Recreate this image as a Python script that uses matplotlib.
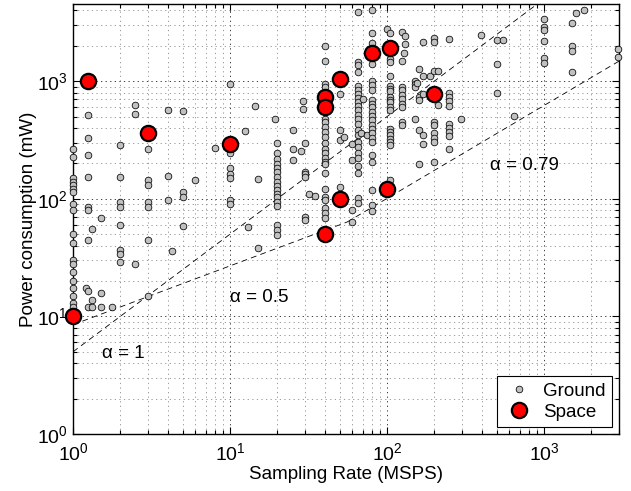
import matplotlib
matplotlib.use('Agg')
import matplotlib.pyplot as plt
import numpy as np
from matplotlib.ticker import LogLocator, NullFormatter

plt.rcParams['font.family'] = ['Liberation Sans', 'DejaVu Sans']
plt.rcParams['mathtext.fontset'] = 'custom'
plt.rcParams['mathtext.rm'] = 'Liberation Sans'
plt.rcParams['mathtext.it'] = 'Liberation Sans:italic'

# ---------------- data ----------------
# Ground (terrestrial ADCs): sampling rate [MSPS] and power [mW], grouped by rate
ground_rate = (
    [1] * 19 + [1.21] + [1.25] * 9 + [1.33] * 3 + [1.5] * 3 + [1.76] +
    [2] * 8 + [2.5] * 3 + [3] * 7 + [4] * 3 + [4.25] + [5] * 4 + [6] + [8] +
    [10] * 7 + [12.4] + [13.1] + [14.4] + [15] * 2 + [19.3] +
    [20] * 17 + [25] * 3 + [28.2] + [29] * 2 + [30] * 6 + [32] + [35] +
    [40] * 22 + [50] * 4 + [53] + [60] * 4 + [65] * 24 + [68] + [70] + [74] +
    [80] * 24 + [100] + [104] * 19 + [125] * 10 + [130] * 2 + [128] +
    [150] * 4 + [155] + [160] * 5 + [170] * 5 + [187] + [200] * 9 + [210] * 2 +
    [248] * 10 + [296] + [395] + [500] * 3 + [550] + [640] +
    [1000] * 6 + [1500] * 4 + [1600] + [1790] + [2950] * 2
)
ground_power = (
    [267, 225, 149, 139, 130, 122, 115, 90, 80, 50, 42, 30, 28, 24, 20, 17.5, 15, 13, 12] +
    [17.6] +
    [513, 329, 234, 153, 85, 80, 44.5, 16.5, 11.9] +
    [55, 13.9, 11.9] +
    [69, 15.9, 11.9] +
    [11.9] +
    [287, 153, 94, 85, 60, 37, 34, 29] +
    [630, 530, 28] +
    [267, 144, 130, 94, 85, 44.5, 15] +
    [574, 156, 97] +
    [36] +
    [555, 115, 104, 58.5] +
    [144] +
    [271] +
    [955, 243, 181, 162, 149, 97, 90] +
    [375] + [57.7] + [610] + [147, 37.9] + [472] +
    [299, 243, 216, 199, 183, 169, 153, 139, 128, 118, 109, 103, 94, 87, 60, 54, 49] +
    [383, 267, 212] + [256] + [675, 585] + [299, 169, 161, 152, 70, 66] + [109] + [105] +
    [1990, 1490, 955, 890, 474, 450, 408, 370, 336, 299, 267, 243, 224, 206, 199, 164,
     122, 104, 97, 83, 75, 68] +
    [770, 388, 318, 126] + [336] + [295, 212, 80, 64] +
    [3890, 1455, 1365, 1197, 906, 837, 785, 726, 666, 612, 566, 513, 481, 436, 383, 347,
     304, 276, 243, 220, 189, 164, 101, 92] +
    [359] + [710] + [347] +
    [4000, 2590, 2110, 1585, 1392, 1004, 923, 837, 688, 645, 597, 547, 503, 466, 422, 395,
     359, 329, 304, 234, 206, 118, 88, 79] +
    [2800] +
    [2590, 1553, 1455, 1100, 906, 865, 826, 734, 698, 666, 604, 566, 395, 370, 347, 325,
     304, 285, 144] +
    [2600, 1490, 890, 837, 757, 711, 645, 604, 450, 422] +
    [2400, 2080] + [1740] +
    [1004, 940, 885, 472] + [960] +
    [1270, 734, 688, 383, 199] +
    [2150, 1100, 770, 347, 292] +
    [1110] +
    [2310, 2150, 1215, 450, 422, 359, 331, 304, 206] +
    [1215, 623] +
    [2270, 795, 740, 680, 612, 436, 402, 370, 339, 267] +
    [472] + [2480] + [2230, 1400, 795] + [2230] + [503] +
    [3357, 2887, 2744, 2183, 1587, 1428] +
    [3150, 1980, 1800, 1197] + [3810] + [4000] + [1890, 1610]
)

# Space-qualified ADCs
space_rate = [1, 1.25, 3, 10, 40, 40, 40, 50, 50, 80, 105, 100, 200]
space_power = [10, 1000, 360, 295, 50, 730, 600, 1040, 100, 1750, 1900, 120, 780]

# Trend lines P = c * f^alpha
alpha_vals = [1.0, 0.5, 0.79]
alpha_coef = [5.0, 8.5, 2.65]
alpha_labels = ['\u03b1 = 1', '\u03b1 = 0.5', '\u03b1 = 0.79']
label_pos = [(1.52, 4.8), (10.0, 14.4), (453, 193)]

xlim = (1, 3000)
ylim = (1, 4500)

# ---------------- figure ----------------
fig = plt.figure(figsize=(6.31, 4.91), dpi=100)
ax = fig.add_axes([0.1157, 0.1161, 0.8653, 0.8751])
ax.set_xscale('log')
ax.set_yscale('log')
ax.set_xlim(*xlim)
ax.set_ylim(*ylim)

# grid
ax.grid(True, which='major', linestyle=(0, (1.5, 4)), color='0.1', linewidth=0.6)
ax.grid(True, which='minor', linestyle=(0, (1.5, 4)), color='0.55', linewidth=0.6)
ax.set_axisbelow(True)

# trend lines
x_int = (alpha_coef[1] / alpha_coef[2]) ** (1.0 / (alpha_vals[2] - alpha_vals[1]))
segments = [(1, 3000), (1, x_int), (x_int, 3000)]
for a, c, (x0, x1) in zip(alpha_vals, alpha_coef, segments):
    xs = np.logspace(np.log10(x0), np.log10(x1), 200)
    ax.plot(xs, c * xs ** a, color='k', linewidth=0.6, linestyle=(0, (7, 5)), zorder=2)
for txt, (tx, ty) in zip(alpha_labels, label_pos):
    ax.text(tx, ty, txt, fontsize=13.5, ha='left', va='center', zorder=3)

ax.plot(ground_rate, ground_power, linestyle='none', marker='o', markersize=4.8,
        markerfacecolor='#c0c0c0', markeredgecolor='k', markeredgewidth=0.55,
        label='Ground', zorder=4, clip_on=False)
ax.plot(space_rate, space_power, linestyle='none', marker='o', markersize=11,
        markerfacecolor='#ff0000', markeredgecolor='k', markeredgewidth=1.6,
        label='Space', zorder=5, clip_on=False)

ax.set_xlabel('Sampling Rate (MSPS)', fontsize=13.5, labelpad=1)
ax.set_ylabel('Power consumption (mW)', fontsize=13.5, labelpad=0)

ax.xaxis.set_major_locator(LogLocator(base=10, numticks=10))
ax.yaxis.set_major_locator(LogLocator(base=10, numticks=10))
ax.xaxis.set_minor_locator(LogLocator(base=10, subs=np.arange(2, 10), numticks=20))
ax.yaxis.set_minor_locator(LogLocator(base=10, subs=np.arange(2, 10), numticks=20))
ax.xaxis.set_minor_formatter(NullFormatter())
ax.yaxis.set_minor_formatter(NullFormatter())
ax.tick_params(which='both', direction='in', top=True, right=True, labelsize=14,
               width=0.8)
ax.tick_params(which='major', length=5)
ax.tick_params(axis='x', which='major', pad=6)
ax.tick_params(axis='y', which='major', pad=4)
ax.tick_params(which='minor', length=3)
for s in ax.spines.values():
    s.set_linewidth(1.0)

leg = ax.legend(loc='lower right', fontsize=13.5, frameon=True, fancybox=False,
                framealpha=1, edgecolor='k', borderpad=0.35, handletextpad=0.45,
                labelspacing=0.2, handlelength=1.7, borderaxespad=0.35)
leg.get_frame().set_linewidth(0.8)

fig.savefig('out.png', dpi=100)
